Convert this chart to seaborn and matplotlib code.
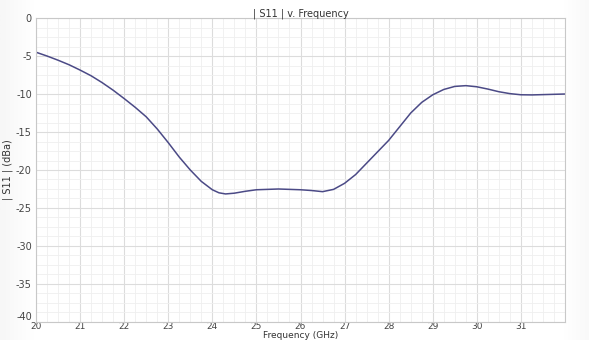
import numpy as np
import pandas as pd
import seaborn as sns
import matplotlib
matplotlib.use("Agg")
import matplotlib.pyplot as plt
from matplotlib.ticker import AutoMinorLocator

# values
freq_ghz = [20, 20.25, 20.5, 20.75, 21, 21.25, 21.5, 21.75, 22, 22.25, 22.5,
            22.75, 23, 23.25, 23.5, 23.75, 24, 24.15, 24.3, 24.5, 24.75, 25,
            25.5, 26, 26.25, 26.5, 26.75, 27, 27.25, 27.5, 27.75, 28, 28.25,
            28.5, 28.75, 29, 29.25, 29.5, 29.75, 30, 30.25, 30.5, 30.75, 31,
            31.25, 31.5, 32]
s11_db = [-4.5, -5.0, -5.55, -6.15, -6.85, -7.6, -8.5, -9.5, -10.6, -11.75,
          -13.0, -14.6, -16.4, -18.3, -20.0, -21.5, -22.6, -23.0, -23.15,
          -23.05, -22.8, -22.6, -22.5, -22.6, -22.7, -22.85, -22.55, -21.75,
          -20.6, -19.1, -17.6, -16.1, -14.3, -12.5, -11.1, -10.1, -9.4, -9.0,
          -8.9, -9.05, -9.35, -9.7, -9.95, -10.1, -10.12, -10.08, -10.0]

x_ticks = list(range(20, 32))
y_ticks = list(range(-40, 1, 5))

df = pd.DataFrame({"freq": freq_ghz, "s11": s11_db})

sns.set_style("white")
plt.rcParams["font.family"] = ["DejaVu Sans"]
plt.rcParams["axes.unicode_minus"] = False

fig = plt.figure(figsize=(5.89, 3.40), dpi=100, facecolor="white")

# soft background shading at the sides
bg = fig.add_axes([0, 0, 1, 1], zorder=-10)
xs = np.linspace(0, 1, 600)
left = np.clip(1 - xs / 0.06, 0, 1)
right = np.clip((xs - 0.955) / 0.045, 0, 1)
grad = np.vstack([1 - 0.07 * left - 0.05 * right] * 2)
bg.imshow(grad, aspect="auto", cmap="Greys_r", vmin=0, vmax=1,
          extent=[0, 1, 0, 1])
bg.axis("off")

ax = fig.add_axes([0.0611, 0.053, 0.8982, 0.894])
ax.set_facecolor("white")

sns.lineplot(data=df, x="freq", y="s11", ax=ax, color="#4b4a86", linewidth=1.1)

ax.set_xlim(20, 32)
ax.set_ylim(-40, 0)
ax.set_xticks(x_ticks)
ax.set_yticks(y_ticks)
ax.xaxis.set_minor_locator(AutoMinorLocator(4))
ax.yaxis.set_minor_locator(AutoMinorLocator(4))
ax.grid(which="major", color="#dcdcdc", linewidth=0.8)
ax.grid(which="minor", color="#efefef", linewidth=0.6)
ax.set_axisbelow(True)

for s in ax.spines.values():
    s.set_color("#c8c8c8")
    s.set_linewidth(0.8)

ax.tick_params(axis="both", which="both", length=0, labelsize=7,
               labelcolor="#444444", pad=3)
ax.tick_params(axis="x", pad=0, labelsize=6.5)
# lift the bottom y label a little so it clears the first x label
ax.get_yticklabels()[0].set_verticalalignment("bottom")

ax.set_title("| S11 | v. Frequency", fontsize=7, color="#333333", pad=1)
ax.set_xlabel("Frequency (GHz)", fontsize=6.5, color="#333333")
ax.xaxis.label.set_verticalalignment("bottom")
ax.xaxis.set_label_coords(0.5, -0.058)
ax.set_ylabel("| S11 | (dBa)", fontsize=7, color="#333333", labelpad=2)

fig.savefig("out.png", dpi=100, facecolor=fig.get_facecolor())
